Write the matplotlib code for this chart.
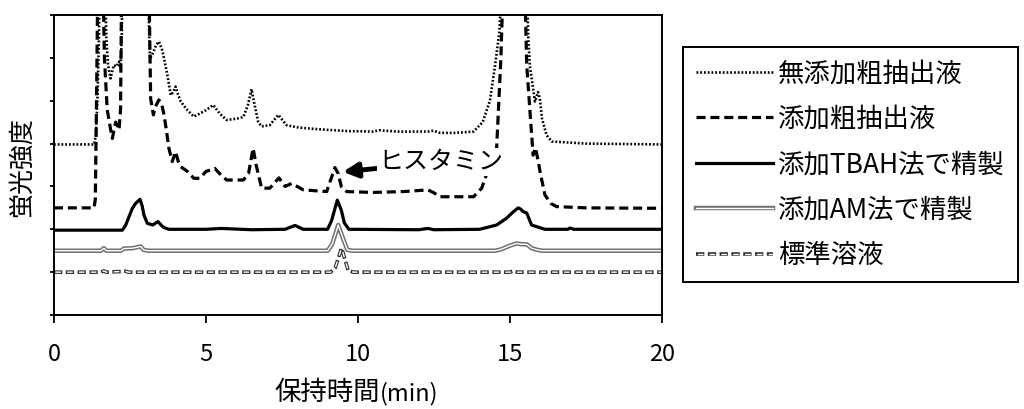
import matplotlib.pyplot as plt
from matplotlib.legend_handler import HandlerTuple

plt.rcParams['font.family'] = ['Noto Sans CJK JP', 'DejaVu Sans']
plt.rcParams['lines.scale_dashes'] = False

# 無添加粗抽出液 (dotted)
x_crude = [0, 1.32, 1.38, 1.43, 1.48, 1.53, 1.65, 1.72, 1.78, 1.86, 1.92, 1.97, 2.06, 2.14, 2.19, 2.23, 2.27,
           3.08, 3.13, 3.16, 3.22, 3.27, 3.36, 3.45, 3.55, 3.62, 3.73, 3.84, 3.92, 4.0, 4.08, 4.17, 4.39, 4.6,
           4.82, 5.0, 5.24, 5.45, 5.68, 6.0, 6.23, 6.38, 6.5, 6.6, 6.72, 6.83, 7.1, 7.38, 7.65, 8.0, 8.42, 9.0,
           9.73, 10.5, 10.7, 11.3, 12.3, 12.48, 12.7, 13.2, 13.8, 14.1, 14.34, 14.51, 14.65, 14.8, 15.5, 15.6,
           15.65, 15.82, 15.92, 15.98, 16.05, 16.2, 16.37, 17.5, 20]
y_crude = [3.98, 3.98, 4.2, 5.06, 6.5, 9, 9, 6.5, 5.83, 5.52, 5.7, 5.83, 5.8, 5.91, 5.75, 6.5, 9,
           9, 6.6, 5.99, 6.05, 6.14, 6.3, 6.38, 6.2, 5.99, 5.6, 5.13, 5.2, 5.33, 5.15, 4.98, 4.78, 4.63,
           4.71, 4.78, 4.9, 4.7, 4.55, 4.58, 4.62, 4.9, 5.27, 4.9, 4.5, 4.4, 4.43, 4.67, 4.43, 4.38, 4.35, 4.32,
           4.29, 4.28, 4.31, 4.28, 4.28, 4.3, 4.25, 4.25, 4.28, 4.5, 5.0, 5.83, 6.6, 9, 9, 6.5,
           5.83, 4.98, 5.2, 5.06, 4.59, 4.2, 4.05, 4.0, 3.98]

# 添加粗抽出液 (dashed)
x_spiked = [0, 1.32, 1.36, 1.40, 1.46, 1.58, 1.66, 1.75, 1.87, 1.92, 1.97, 2.03, 2.10, 2.14, 2.19, 2.24,
            3.10, 3.15, 3.18, 3.27, 3.33, 3.45, 3.55, 3.62, 3.70, 3.78, 3.89, 4.0, 4.08, 4.17, 4.39, 4.6,
            4.8, 5.0, 5.29, 5.45, 5.68, 6.23, 6.40, 6.55, 6.65, 6.83, 7.1, 7.40, 7.6, 7.82, 8.2, 8.97, 9.1,
            9.24, 9.35, 9.45, 9.63, 10.5, 11.5, 12.3, 12.5, 12.7, 13.8, 14.07, 14.18, 14.3, 14.56, 14.7, 14.83,
            15.44, 15.55, 15.65, 15.76, 15.84, 15.93, 16.0, 16.15, 16.35, 16.53, 17.5, 20]
y_spiked = [2.5, 2.5, 2.7, 5, 9, 9, 6, 4.8, 4.3, 4.12, 4.3, 4.5, 4.4, 4.32, 4.8, 9,
            9, 6.5, 5.05, 4.67, 4.85, 5.02, 4.9, 4.67, 4.3, 3.89, 3.58, 3.81, 3.6, 3.46, 3.35, 3.19,
            3.19, 3.35, 3.42, 3.3, 3.15, 3.15, 3.3, 3.89, 3.5, 2.96, 2.96, 3.2, 3.0, 3.07, 2.92, 2.88, 3.15,
            3.44, 3.3, 3.0, 2.88, 2.86, 2.88, 2.92, 2.85, 2.76, 2.76, 2.96, 3.19, 3.4, 3.89, 6.0, 9,
            9, 5.83, 4.82, 3.73, 3.9, 3.58, 3.3, 2.8, 2.6, 2.53, 2.5, 2.49]

# 添加TBAH法で精製 (solid)
x_tbah = [0, 2.25, 2.36, 2.5, 2.58, 2.68, 2.83, 2.90, 2.96, 3.07, 3.25, 3.42, 3.55, 3.62, 3.78, 5.0, 5.5,
          6.5, 7.6, 7.93, 8.2, 9.0, 9.13, 9.32, 9.45, 9.55, 9.7, 12.0, 12.3, 12.5, 14.0, 14.56, 14.89, 15.11,
          15.27, 15.35, 15.44, 15.55, 15.71, 15.93, 16.15, 16.9, 16.97, 17.1, 20]
y_tbah = [1.98, 1.98, 2.1, 2.35, 2.49, 2.6, 2.70, 2.55, 2.33, 2.14, 2.1, 2.18, 2.08, 2.04, 2.0, 2.0, 2.02,
          1.99, 2.0, 2.09, 2.0, 2.0, 2.2, 2.68, 2.45, 2.15, 2.0, 1.99, 2.02, 1.99, 2.0, 2.1, 2.26, 2.41,
          2.5, 2.47, 2.41, 2.38, 2.1, 2.05, 2.0, 2.0, 2.03, 2.0, 2.0]

# 添加AM法で精製 (double line)
x_am = [0, 1.55, 1.64, 1.72, 2.2, 2.3, 2.6, 2.85, 2.95, 3.1, 9.0, 9.15, 9.35, 9.5, 9.65, 9.8, 14.5, 14.7,
        15.0, 15.22, 15.4, 15.55, 15.71, 15.9, 16.05, 20]
y_am = [1.5, 1.5, 1.56, 1.5, 1.5, 1.55, 1.56, 1.6, 1.52, 1.5, 1.5, 1.65, 2.10, 1.8, 1.52, 1.5, 1.5, 1.53,
        1.62, 1.67, 1.65, 1.65, 1.56, 1.52, 1.5, 1.5]

# 標準溶液 (hollow dashed)
x_std = [0, 1.55, 1.64, 1.72, 2.35, 2.45, 9.1, 9.25, 9.46, 9.55, 9.68, 9.85, 15.0, 15.1, 15.25, 20]
y_std = [1.0, 1.0, 1.03, 1.0, 1.02, 1.0, 1.0, 1.1, 1.56, 1.35, 1.03, 1.0, 1.0, 1.03, 1.0, 1.0]

labels = ['無添加粗抽出液', '添加粗抽出液', '添加TBAH法で精製', '添加AM法で精製', '標準溶液']
xticks = [0, 5, 10, 15, 20]

fig = plt.figure(figsize=(10.24, 4.09), dpi=100)
ax = fig.add_axes([0.0527, 0.2298, 0.5938, 0.7335])

l1, = ax.plot(x_crude, y_crude, color='black', lw=1.9, linestyle=(0, (1.3, 1.4)))
l2, = ax.plot(x_spiked, y_spiked, color='black', lw=2.3, linestyle=(0, (6.5, 3.5)))
l3, = ax.plot(x_tbah, y_tbah, color='black', lw=2.3)
l4a, = ax.plot(x_am, y_am, color='#707070', lw=3.2)
l4b, = ax.plot(x_am, y_am, color='white', lw=1.0)
l5a, = ax.plot(x_std, y_std, color='#303030', lw=2.6, linestyle=(0, (6, 2.5)))
l5b, = ax.plot(x_std, y_std, color='white', lw=1.0, linestyle=(7.5, (4, 4.5)))

ax.annotate('ヒスタミン', xy=(9.5, 3.34), xytext=(10.66, 3.57), fontsize=18, va='center', ha='left',
            bbox=dict(boxstyle='square,pad=0.05', fc='white', ec='none'),
            arrowprops=dict(arrowstyle='-|>', lw=3.5, color='black', mutation_scale=22, shrinkA=0, shrinkB=0),
            zorder=5)

ax.set_xlim(0, 20)
ax.set_ylim(0, 7)
ax.set_xticks(xticks)
ax.set_yticks(range(8))
ax.set_yticklabels([])
ax.tick_params(axis='x', direction='out', length=6, width=1.3, labelsize=17, pad=14)
ax.tick_params(axis='y', direction='out', length=3, width=1.3)
for s in ax.spines.values():
    s.set_linewidth(1.4)
ax.set_ylabel('蛍光強度', fontsize=18)
ax.yaxis.set_label_coords(-0.031, 0.493)

fig.text(380 / 1024, 0.022, '保持時間', fontsize=19, ha='right', va='baseline')
fig.text(380 / 1024, 0.022, '(min)', fontsize=17, ha='left', va='baseline')

leg = fig.legend([l1, l2, l3, (l4a, l4b), (l5a, l5b)], labels, loc='upper left',
                 bbox_to_anchor=(0.667, 0.885), borderaxespad=0, fontsize=19, handlelength=2.9,
                 handletextpad=0.2, labelspacing=0.7, borderpad=0.5, fancybox=False, framealpha=1,
                 handler_map={tuple: HandlerTuple(ndivide=1)})
leg.get_frame().set_edgecolor('black')
leg.get_frame().set_linewidth(1.4)

fig.savefig('out.png', dpi=100)
